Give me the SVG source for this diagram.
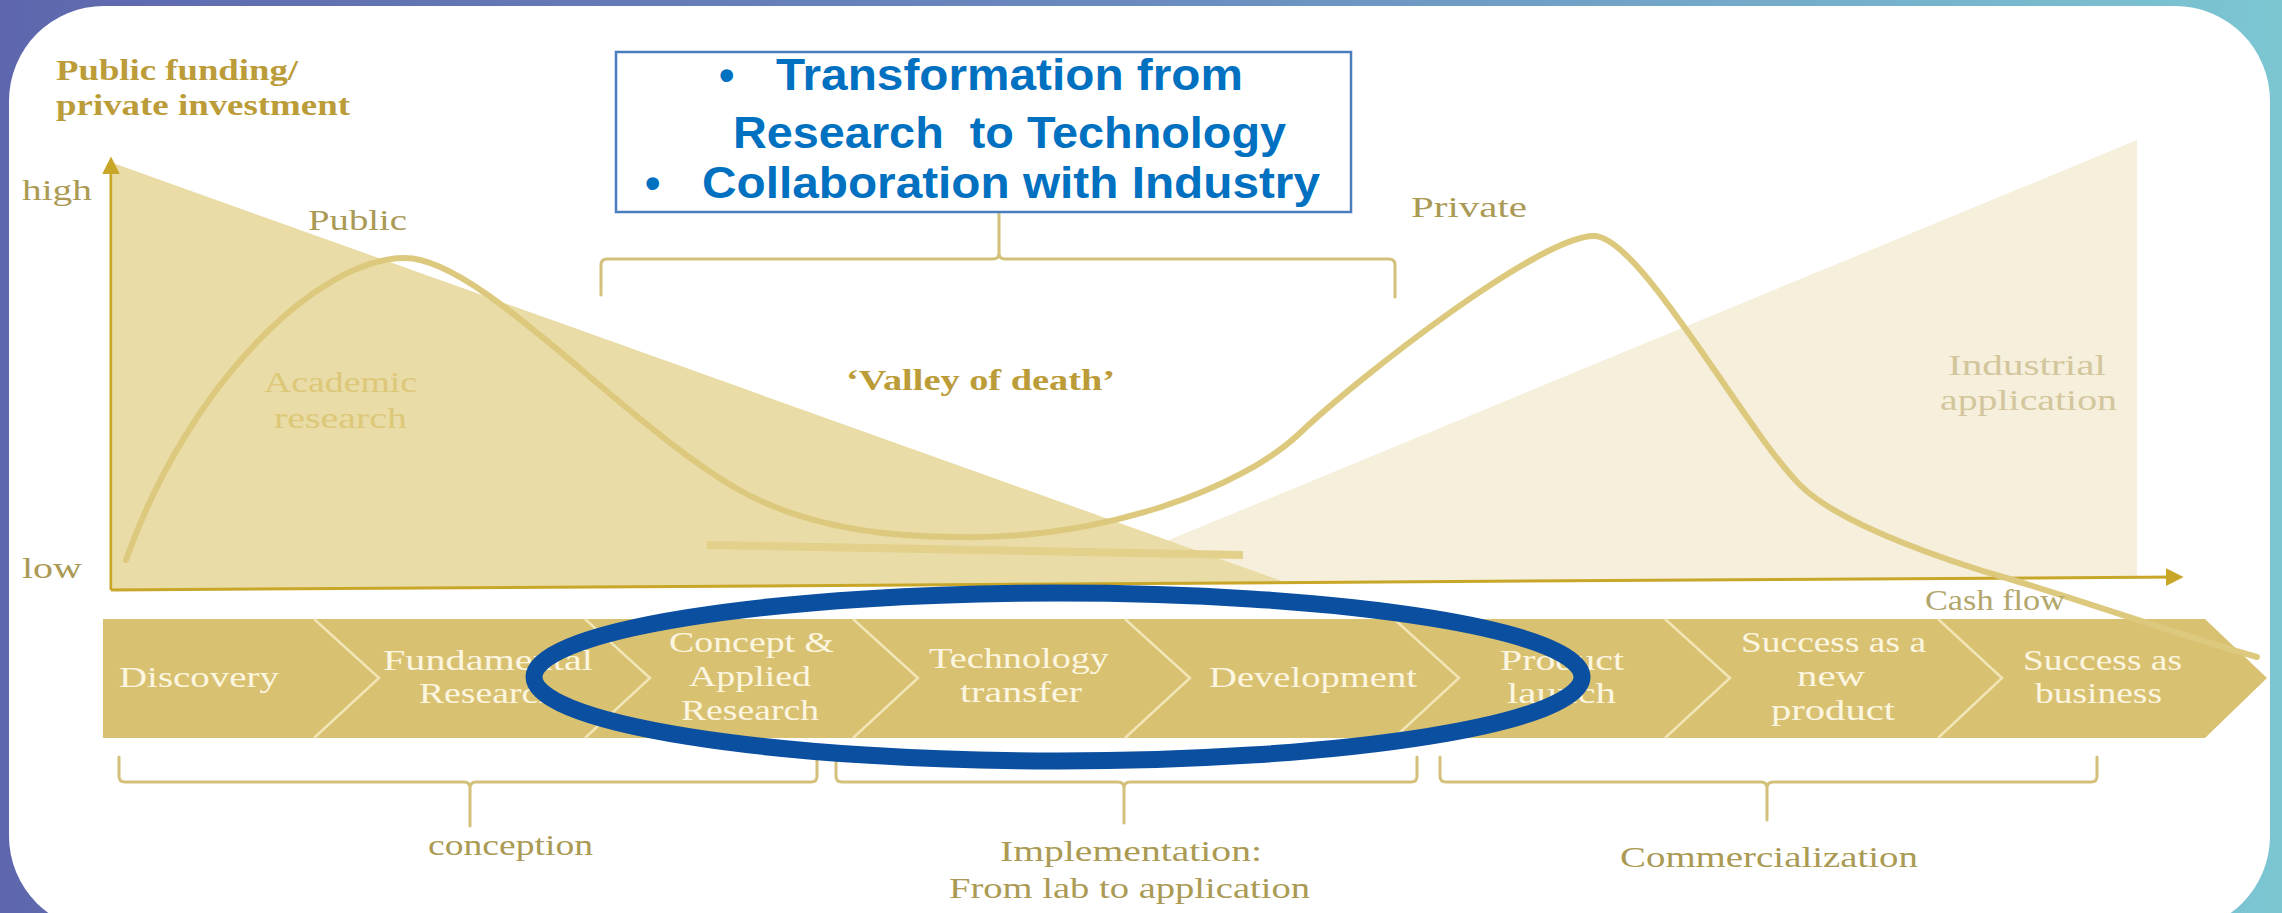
<svg xmlns="http://www.w3.org/2000/svg" width="2282" height="913" viewBox="0 0 2282 913">
<defs>
<linearGradient id="bg" x1="0" y1="0" x2="1" y2="0">
<stop offset="0" stop-color="#5e67ad"/>
<stop offset="0.5" stop-color="#6a8bbf"/>
<stop offset="1" stop-color="#7cc6d2"/>
</linearGradient>
<marker id="ah" viewBox="0 0 10 10" refX="8" refY="5" markerWidth="6" markerHeight="6" orient="auto" markerUnits="strokeWidth">
<path d="M0,0 L10,5 L0,10 Z" fill="#c7a628"/>
</marker>
</defs>
<style>
.lbl{font-family:"Liberation Serif","Times New Roman",serif;font-size:30px;fill:#ab9a54}
.ttl{font-weight:bold;fill:#bb9c38}
.fade1{fill:#dcc878}
.fade2{fill:#d3c69c}
.stage{font-family:"Liberation Serif","Times New Roman",serif;font-size:30px;fill:#fcf6e0}
.hdr{font-family:"Liberation Sans",Arial,sans-serif;font-weight:bold;font-size:44px;fill:#0070c0}
.brk{fill:none;stroke:#d3c07a;stroke-width:3;stroke-linejoin:round;stroke-linecap:round}
.sep{fill:none;stroke:#f2e6b6;stroke-width:2.5}
.curve{fill:none;stroke:#ddc97e;stroke-width:6;stroke-linecap:round}
.axis{fill:none;stroke:#c7a628;stroke-width:3}
</style>

<g id="frame">
<rect x="0" y="0" width="2282" height="913" fill="url(#bg)"/>
<rect x="9" y="6" width="2261" height="925" rx="95" ry="95" fill="#ffffff"/>
</g>

<g id="chart">
<polygon points="1060,585 2137,140 2137,578" fill="#f5efdc"/>
<polygon points="113,163 1290,584 113,590" fill="#e9dca6"/>
<line x1="707" y1="545" x2="1243" y2="555" stroke="#e3d08a" stroke-width="8"/>
<line class="axis" x1="111" y1="590" x2="111" y2="160" marker-end="url(#ah)"/>
<line class="axis" x1="111" y1="590" x2="2180" y2="577" marker-end="url(#ah)"/>
</g>

<g id="stages">
<polygon points="103,619 2205,619 2267,678 2205,738 103,738" fill="#d9c172"/>
<g id="stage-discovery"><text class="stage" x="119" y="687" textLength="160" lengthAdjust="spacingAndGlyphs">Discovery</text></g>
<g id="stage-fundamental">
<polyline class="sep" points="314,619 379,678 314,738"/>
<text class="stage" x="383" y="670" textLength="210" lengthAdjust="spacingAndGlyphs">Fundamental</text>
<text class="stage" x="419" y="703" textLength="138" lengthAdjust="spacingAndGlyphs">Research</text>
</g>
<g id="stage-concept">
<polyline class="sep" points="585,619 650,678 585,738"/>
<text class="stage" x="669" y="652" textLength="165" lengthAdjust="spacingAndGlyphs">Concept &amp;</text>
<text class="stage" x="689" y="686" textLength="122" lengthAdjust="spacingAndGlyphs">Applied</text>
<text class="stage" x="681" y="720" textLength="138" lengthAdjust="spacingAndGlyphs">Research</text>
</g>
<g id="stage-techtransfer">
<polyline class="sep" points="853,619 918,678 853,738"/>
<text class="stage" x="929" y="668" textLength="180" lengthAdjust="spacingAndGlyphs">Technology</text>
<text class="stage" x="960" y="702" textLength="122" lengthAdjust="spacingAndGlyphs">transfer</text>
</g>
<g id="stage-development">
<polyline class="sep" points="1125,619 1190,678 1125,738"/>
<text class="stage" x="1209" y="687" textLength="208" lengthAdjust="spacingAndGlyphs">Development</text>
</g>
<g id="stage-launch">
<polyline class="sep" points="1394,619 1459,678 1394,738"/>
<text class="stage" x="1500" y="670" textLength="124" lengthAdjust="spacingAndGlyphs">Product</text>
<text class="stage" x="1507" y="703" textLength="109" lengthAdjust="spacingAndGlyphs">launch</text>
</g>
<g id="stage-newproduct">
<polyline class="sep" points="1665,619 1730,678 1665,738"/>
<text class="stage" x="1741" y="652" textLength="185" lengthAdjust="spacingAndGlyphs">Success as a</text>
<text class="stage" x="1797" y="686" textLength="68" lengthAdjust="spacingAndGlyphs">new</text>
<text class="stage" x="1771" y="720" textLength="124" lengthAdjust="spacingAndGlyphs">product</text>
</g>
<g id="stage-business">
<polyline class="sep" points="1938,619 2002,678 1938,738"/>
<text class="stage" x="2023" y="670" textLength="159" lengthAdjust="spacingAndGlyphs">Success as</text>
<text class="stage" x="2035" y="703" textLength="127" lengthAdjust="spacingAndGlyphs">business</text>
</g>
</g>

<g id="curves">
<path class="curve" d="M126,560 C190,380 320,258 405,258 C480,258 620,420 734,487 C800,526 880,537 957,537 C1100,540 1240,490 1300,433 C1360,376 1540,236 1594,236 C1640,236 1745,430 1800,485 C1840,525 1950,562 2013,580 C2080,600 2180,635 2257,657"/>
</g>

<g id="labels">
<text class="lbl ttl" x="56" y="80" textLength="242" lengthAdjust="spacingAndGlyphs">Public funding/</text>
<text class="lbl ttl" x="56" y="115" textLength="294" lengthAdjust="spacingAndGlyphs">private investment</text>
<text class="lbl" x="22" y="200" textLength="70" lengthAdjust="spacingAndGlyphs">high</text>
<text class="lbl" x="22" y="578" textLength="60" lengthAdjust="spacingAndGlyphs">low</text>
<text class="lbl" x="308" y="230" textLength="99" lengthAdjust="spacingAndGlyphs">Public</text>
<text class="lbl" x="1411" y="217" textLength="116" lengthAdjust="spacingAndGlyphs">Private</text>
<text class="lbl ttl" x="846" y="390" textLength="269" lengthAdjust="spacingAndGlyphs">‘Valley of death’</text>
<text class="lbl fade1" x="264" y="392" textLength="153" lengthAdjust="spacingAndGlyphs">Academic</text>
<text class="lbl fade1" x="274" y="428" textLength="133" lengthAdjust="spacingAndGlyphs">research</text>
<text class="lbl fade2" x="1948" y="375" textLength="158" lengthAdjust="spacingAndGlyphs">Industrial</text>
<text class="lbl fade2" x="1940" y="410" textLength="177" lengthAdjust="spacingAndGlyphs">application</text>
<text class="lbl" x="1925" y="610" textLength="140" lengthAdjust="spacingAndGlyphs" style="fill:#b3a66c">Cash flow</text>
<text class="lbl" x="428" y="855" textLength="165" lengthAdjust="spacingAndGlyphs">conception</text>
<text class="lbl" x="1000" y="861" textLength="262" lengthAdjust="spacingAndGlyphs">Implementation:</text>
<text class="lbl" x="949" y="898" textLength="361" lengthAdjust="spacingAndGlyphs">From lab to application</text>
<text class="lbl" x="1620" y="867" textLength="298" lengthAdjust="spacingAndGlyphs">Commercialization</text>
</g>

<g id="connectors">
<path class="brk" d="M601,295 L601,265 Q601,259 607,259 L993,259 Q999,259 999,253 L999,213 M999,253 Q999,259 1005,259 L1389,259 Q1395,259 1395,265 L1395,297"/>
<path class="brk" d="M119,757 L119,776 Q119,782 125,782 L464,782 Q470,782 470,788 L470,826 M470,788 Q470,782 476,782 L811,782 Q817,782 817,776 L817,760"/>
<path class="brk" d="M836,762 L836,776 Q836,782 842,782 L1118,782 Q1124,782 1124,788 L1124,823 M1124,788 Q1124,782 1130,782 L1411,782 Q1417,782 1417,776 L1417,757"/>
<path class="brk" d="M1440,757 L1440,776 Q1440,782 1446,782 L1761,782 Q1767,782 1767,788 L1767,820 M1767,788 Q1767,782 1773,782 L2091,782 Q2097,782 2097,776 L2097,757"/>
</g>

<g id="header-box">
<rect x="616" y="52" width="735" height="160" fill="#ffffff" stroke="#4a7ebf" stroke-width="2.5"/>
<text class="hdr" x="719" y="90">•</text>
<text class="hdr" x="776" y="90" textLength="467" lengthAdjust="spacingAndGlyphs">Transformation from</text>
<text class="hdr" x="733" y="148" textLength="553" lengthAdjust="spacingAndGlyphs" style="white-space:pre">Research  to Technology</text>
<text class="hdr" x="645" y="198">•</text>
<text class="hdr" x="702" y="198" textLength="618" lengthAdjust="spacingAndGlyphs">Collaboration with Industry</text>
</g>

<g id="highlight">
<ellipse cx="1058" cy="677" rx="524" ry="84" fill="none" stroke="#0b4fa0" stroke-width="17"/>
</g>
</svg>
